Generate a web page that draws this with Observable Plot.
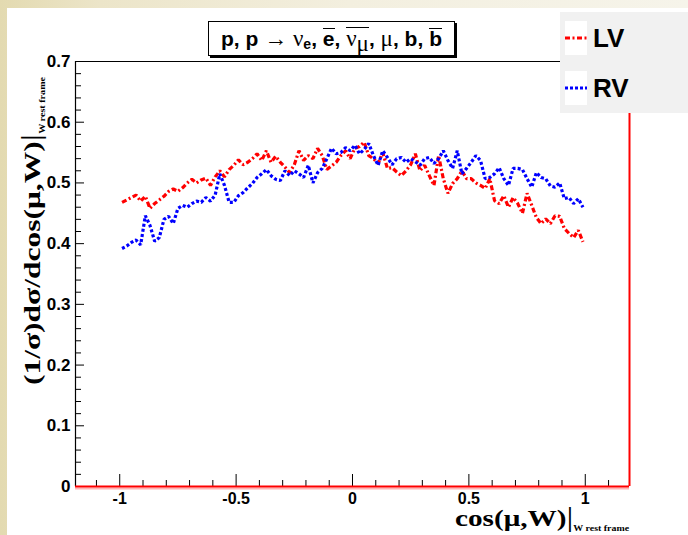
<!DOCTYPE html>
<html><head><meta charset="utf-8">
<script src="https://cdn.jsdelivr.net/npm/d3@7"></script>
<script src="https://cdn.jsdelivr.net/npm/@observablehq/plot@0.6"></script>
<style>
body{margin:0;}
#wrap{position:relative;width:688px;height:535px;overflow:hidden;background:linear-gradient(to right,#e3dab0 0px,#ece5c9 100px,#f3efdf 350px,#f6f4ea 688px);}
#panel{position:absolute;left:7px;top:8px;right:0;bottom:0;background:#fff;}
#chart{position:absolute;left:0;top:0;}
.ov{position:absolute;white-space:nowrap;}
.sans{font-family:"Liberation Sans",Arial,sans-serif;font-weight:bold;}
.greek{font-family:"Liberation Serif",serif;font-weight:normal;}
.ol{display:inline-block;border-top:1.6px solid #000;line-height:0.95;}
.serifb{font-family:"Liberation Serif","Times New Roman",serif;font-weight:bold;}
#title{left:208px;top:21px;width:245px;height:33px;background:#fff;border:1px solid #000;box-shadow:2px 2px 0 #000;font-size:21px;display:flex;align-items:center;justify-content:center;line-height:1;}
#title .greek{font-size:23px;}
#title sub{font-size:14px;position:relative;top:5px;vertical-align:baseline;}
#legend{left:560px;top:12px;width:128px;height:101px;background:#f1f1f1;}
.lrow{position:absolute;left:5px;display:flex;align-items:center;}
.lrow .sw{width:22px;height:34px;background:#fff;display:flex;align-items:center;}
.lrow span{margin-left:6px;font-size:26px;}
#ylab{left:31px;top:231px;transform:translate(-50%,-50%) rotate(-90deg) scaleX(1.37);font-size:23px;line-height:0.9;}
#ylab .subw{font-size:7.4px;}
#xlab{right:59px;top:505px;transform-origin:100% 50%;transform:scaleX(1.27);font-size:23px;line-height:0.9;}
.subw{font-size:7.8px;position:relative;top:5px;}
.bar{font-size:27px;font-weight:normal;}
</style></head><body>
<div id="wrap">
<div id="panel"></div>
<div id="chart"></div>
<div id="title" class="ov"><span class="sans">p, p&nbsp;</span><span class="greek">→ ν</span><sub class="sans">e</sub><span class="sans">,&nbsp;</span><span class="sans ol">e</span><span class="sans">,&nbsp;</span><span class="ol"><span class="greek">ν</span><sub class="greek">μ</sub></span><span class="sans">,&nbsp;</span><span class="greek">μ</span><span class="sans">, b,&nbsp;</span><span class="sans ol">b</span></div>
<div id="legend" class="ov">
  <div class="lrow" style="top:9px"><div class="sw"><svg width="22" height="6"><line x1="0" y1="3" x2="22" y2="3" stroke="#ff0000" stroke-width="3" stroke-dasharray="5,2.5,2,2.5"/></svg></div><span class="sans">LV</span></div>
  <div class="lrow" style="top:59px"><div class="sw"><svg width="22" height="6"><line x1="0" y1="3" x2="22" y2="3" stroke="#0000ff" stroke-width="3" stroke-dasharray="3,2"/></svg></div><span class="sans">RV</span></div>
</div>
<div id="ylab" class="ov serifb">(1/σ)dσ/dcos(μ,W)<span class="bar">|</span><span class="subw">W rest frame</span></div>
<div id="xlab" class="ov serifb">cos(μ,W)<span class="bar">|</span><span class="subw">W rest frame</span></div>
</div>
<script>
const cosBins = [-0.99,-0.97,-0.95,-0.93,-0.91,-0.89,-0.87,-0.85,-0.83,-0.81,
-0.79,-0.77,-0.75,-0.73,-0.71,-0.69,-0.67,-0.65,-0.63,-0.61,
-0.59,-0.57,-0.55,-0.53,-0.51,-0.49,-0.47,-0.45,-0.43,-0.41,
-0.39,-0.37,-0.35,-0.33,-0.31,-0.29,-0.27,-0.25,-0.23,-0.21,
-0.19,-0.17,-0.15,-0.13,-0.11,-0.09,-0.07,-0.05,-0.03,-0.01,
0.01,0.03,0.05,0.07,0.09,0.11,0.13,0.15,0.17,0.19,
0.21,0.23,0.25,0.27,0.29,0.31,0.33,0.35,0.37,0.39,
0.41,0.43,0.45,0.47,0.49,0.51,0.53,0.55,0.57,0.59,
0.61,0.63,0.65,0.67,0.69,0.71,0.73,0.75,0.77,0.79,
0.81,0.83,0.85,0.87,0.89,0.91,0.93,0.95,0.97,0.99];
const lvValues = [0.468,0.472,0.476,0.480,0.470,0.478,0.458,0.466,0.472,0.478,
0.486,0.490,0.486,0.492,0.500,0.506,0.500,0.505,0.508,0.496,
0.510,0.520,0.510,0.522,0.529,0.538,0.530,0.534,0.540,0.548,
0.537,0.553,0.534,0.544,0.534,0.526,0.517,0.530,0.553,0.537,
0.545,0.540,0.557,0.545,0.522,0.528,0.534,0.545,0.553,0.540,
0.557,0.560,0.567,0.545,0.540,0.532,0.550,0.524,0.525,0.518,
0.512,0.520,0.530,0.548,0.520,0.529,0.512,0.496,0.545,0.507,
0.483,0.499,0.507,0.520,0.507,0.507,0.500,0.496,0.491,0.507,
0.471,0.466,0.479,0.460,0.476,0.466,0.450,0.483,0.463,0.443,
0.433,0.441,0.433,0.446,0.445,0.425,0.417,0.410,0.422,0.403];
const rvValues = [0.392,0.396,0.402,0.406,0.398,0.446,0.430,0.404,0.410,0.440,
0.445,0.433,0.458,0.463,0.460,0.466,0.470,0.468,0.476,0.470,
0.480,0.515,0.496,0.468,0.468,0.479,0.484,0.492,0.499,0.509,
0.515,0.522,0.512,0.506,0.504,0.520,0.512,0.520,0.515,0.509,
0.529,0.500,0.517,0.524,0.540,0.557,0.548,0.550,0.558,0.553,
0.562,0.548,0.555,0.565,0.545,0.529,0.553,0.542,0.530,0.540,
0.542,0.534,0.540,0.535,0.529,0.540,0.542,0.532,0.540,0.553,
0.537,0.524,0.553,0.515,0.524,0.534,0.545,0.537,0.507,0.509,
0.515,0.525,0.507,0.496,0.524,0.524,0.522,0.507,0.493,0.517,
0.509,0.507,0.495,0.493,0.500,0.474,0.476,0.466,0.474,0.460];
const xMajorTicks = [-1,-0.5,0,0.5,1];
const xMinorTicks = [-1.1,-0.9,-0.8,-0.7,-0.6,-0.4,-0.3,-0.2,-0.1,0.1,0.2,0.3,0.4,0.6,0.7,0.8,0.9,1.1];
const yMajorTicks = [0,0.1,0.2,0.3,0.4,0.5,0.6,0.7];
const yMinorTicks = [0.02,0.04,0.06,0.08,0.12,0.14,0.16,0.18,0.22,0.24,0.26,0.28,0.32,0.34,0.36,0.38,0.42,0.44,0.46,0.48,0.52,0.54,0.56,0.58,0.62,0.64,0.66,0.68];

const lv = cosBins.map((c,i)=>({cos:c, v:lvValues[i]}));
const rv = cosBins.map((c,i)=>({cos:c, v:rvValues[i]}));

const W = 688, H = 535, mL = 75, mR = 59, mT = 61, mB = 49;
const innerW = W - mL - mR, innerH = H - mT - mB;
const xDomain = [-1.19, 1.19], yDomain = [0, 0.7];
const font = "Liberation Sans, Arial, sans-serif";

const chart = Plot.plot({
  width: W, height: H,
  marginLeft: mL, marginRight: mR, marginTop: mT, marginBottom: mB,
  style: {background: "transparent", fontFamily: font, fontWeight: "bold", fontSize: "16px", color: "#000"},
  x: {domain: xDomain},
  y: {domain: yDomain},
  marks: [
    Plot.ruleY([yDomain[1]], {stroke: "#000", strokeWidth: 1.2}),
    Plot.ruleX([xDomain[0]], {stroke: "#000", strokeWidth: 1.2}),
    Plot.tickX(xMajorTicks, {x: d => d, stroke: "#000", insetTop: innerH - 12}),
    Plot.tickX(xMinorTicks, {x: d => d, stroke: "#000", insetTop: innerH - 6}),
    Plot.tickY(yMajorTicks, {y: d => d, stroke: "#000", insetRight: innerW - 9}),
    Plot.tickY(yMinorTicks, {y: d => d, stroke: "#000", insetRight: innerW - 6}),
    Plot.line(lv, {x: "cos", y: "v", stroke: "#ff0000", strokeWidth: 3.2, strokeDasharray: "5,2.5,2,2.5", strokeLinecap: "butt", strokeLinejoin: "miter"}),
    Plot.line(rv, {x: "cos", y: "v", stroke: "#0000ff", strokeWidth: 3.2, strokeDasharray: "3,2.2", strokeLinecap: "butt", strokeLinejoin: "miter"}),
    Plot.ruleY([yDomain[0]], {stroke: "#ffb3b3", strokeWidth: 2, dy: 2}),
    Plot.ruleY([yDomain[0]], {stroke: "#ff0000", strokeWidth: 2}),
    Plot.ruleX([xDomain[1]], {stroke: "#ff0000", strokeWidth: 2}),
    Plot.axisX({ticks: xMajorTicks, tickSize: 0, tickPadding: 6, tickFormat: d => String(d), label: null, fontSize: 16, fontWeight: "bold"}),
    Plot.axisY({ticks: yMajorTicks, tickSize: 0, tickPadding: 5, tickFormat: d => d === 0 ? "0" : d.toFixed(1), label: null, fontSize: 17, fontWeight: "bold"})
  ]
});
document.getElementById("chart").appendChild(chart);
</script>
</body></html>
